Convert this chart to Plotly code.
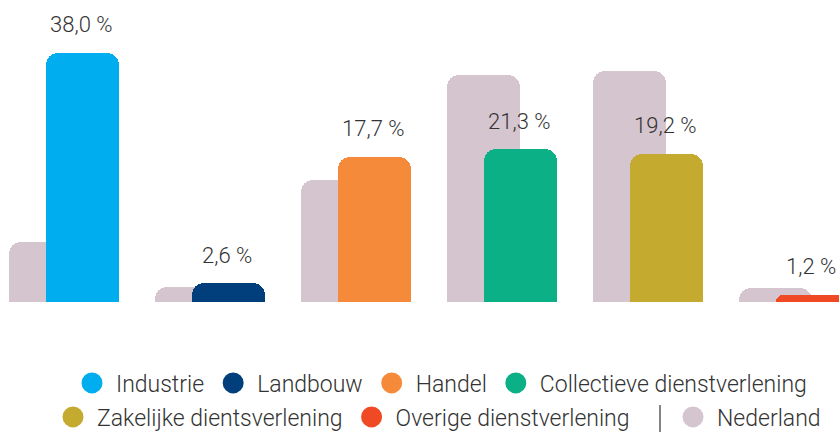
import plotly.graph_objects as go

# ---- data ----
categories = ["Industrie", "Landbouw", "Handel", "Collectieve dienstverlening",
              "Zakelijke dientsverlening", "Overige dienstverlening"]
sector_values = [38.0, 2.85, 22.1, 23.3, 22.6, 1.07]      # coloured bar heights
nederland_values = [9.1, 2.3, 18.6, 34.6, 35.2, 2.1]     # grey reference bars
value_labels = ["38,0 %", "2,6 %", "17,7 %", "21,3 %", "19,2 %", "1,2 %"]
sector_colors = ["#00AEEF", "#003F7B", "#F58A3A", "#0BB086", "#C4AB30", "#EF4A23"]
nederland_name = "Nederland"
nederland_color = "#D4C5CF"

FONT = "Roboto"
TXT = "#333333"
W, H = 839, 432
PLOT_BOTTOM = 302  # pixel of baseline


def py(pix):
    """pixel y (from top) -> paper y"""
    return (PLOT_BOTTOM - pix) / PLOT_BOTTOM


fig = go.Figure()

# grey Nederland bars (behind, shifted left)
fig.add_trace(go.Bar(
    x=categories, y=nederland_values, name=nederland_name,
    marker=dict(color=nederland_color, cornerradius=12, line=dict(width=0)),
    width=0.5, offset=-0.5, showlegend=False, hoverinfo="skip",
))

# coloured sector bars
for cat, val, col in zip(categories, sector_values, sector_colors):
    fig.add_trace(go.Bar(
        x=[cat], y=[val], name=cat,
        marker=dict(color=col, cornerradius=12, line=dict(width=0)),
        width=0.5, offset=-0.25, showlegend=False,
    ))

# value labels
for cat, val, lab in zip(categories, sector_values, value_labels):
    fig.add_annotation(x=cat, y=val, xref="x", yref="y", text=lab,
                       showarrow=False, yanchor="middle", yshift=28, xshift=-1,
                       font=dict(family=FONT, size=22, color=TXT, weight=300))

# legend entries (circle markers)
legend_groups = ["legend", "legend", "legend", "legend", "legend2", "legend2"]
for cat, col, lg in zip(categories, sector_colors, legend_groups):
    fig.add_trace(go.Scatter(
        x=[None], y=[None], mode="markers", name=cat, legend=lg,
        marker=dict(size=16, color=col, symbol="circle", line=dict(color=col, width=5)),
    ))
fig.add_trace(go.Scatter(
    x=[None], y=[None], mode="markers", name=nederland_name, legend="legend3",
    marker=dict(size=16, color=nederland_color, symbol="circle",
                line=dict(color=nederland_color, width=5)),
))

legend_font = dict(family=FONT, size=23, color=TXT, weight=300)
common = dict(orientation="h", yanchor="middle", xanchor="left", itemwidth=38,
              bgcolor="rgba(0,0,0,0)", font=legend_font, traceorder="normal",
              itemclick=False, itemdoubleclick=False)

fig.update_layout(
    width=W, height=H,
    margin=dict(l=0, r=0, t=0, b=H - PLOT_BOTTOM, pad=0, autoexpand=False),
    paper_bgcolor="white", plot_bgcolor="white",
    barmode="overlay", bargap=0,
    xaxis=dict(visible=False, range=[-0.565, 5.182], fixedrange=True),
    yaxis=dict(visible=False, range=[0, 46.0], fixedrange=True),
    legend=dict(x=68 / W, y=py(383), **common),
    legend2=dict(x=49 / W, y=py(417), **common),
    legend3=dict(x=669 / W, y=py(417), **common),
    shapes=[dict(type="line", xref="paper", yref="paper",
                 x0=660 / W, x1=660 / W, y0=py(405), y1=py(432),
                 line=dict(color=TXT, width=1.2))],
    showlegend=True,
)

fig.write_html(
    "out.html",
    config={"displayModeBar": False},
    post_script="document.body.style.margin='0';document.body.style.overflow='hidden';",
)
